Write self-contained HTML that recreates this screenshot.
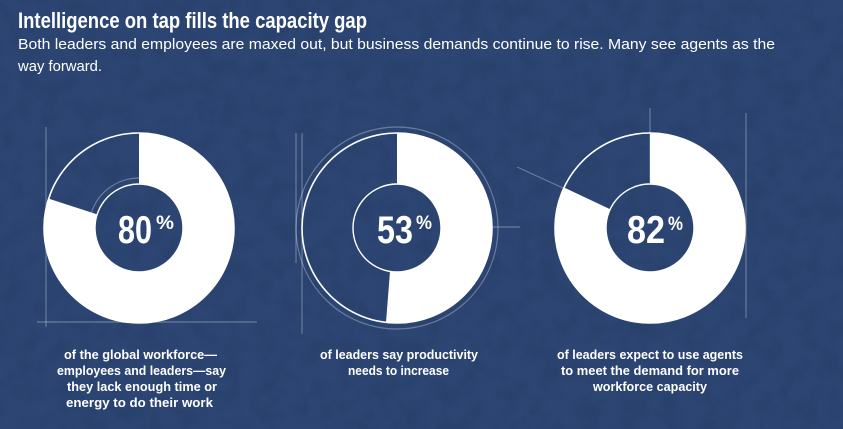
<!DOCTYPE html>
<html>
<head>
<meta charset="utf-8">
<style>
html,body{margin:0;padding:0;background:#2c4572;}
body{width:843px;height:429px;overflow:hidden;}
svg{display:block;}
text{font-family:"Liberation Sans",sans-serif;fill:#fff;}
</style>
</head>
<body>
<svg width="843" height="429" viewBox="0 0 843 429" xmlns="http://www.w3.org/2000/svg">
  <defs>
    <filter id="tex" x="0" y="0" width="100%" height="100%" color-interpolation-filters="sRGB">
      <feTurbulence type="fractalNoise" baseFrequency="0.05" numOctaves="3" seed="7" result="t"/>
      <feColorMatrix in="t" type="matrix" values="0 0 0 0 0.14  0 0 0 0 0.22  0 0 0 0 0.38  0 0 0 -3 1.75"/>
    </filter>
  </defs>
  <rect width="843" height="429" fill="#2c4572"/>
  <rect width="843" height="429" filter="url(#tex)" opacity="0.3"/>

  <!-- Title -->
  <text x="18" y="28" font-size="22" font-weight="bold" textLength="349" lengthAdjust="spacingAndGlyphs">Intelligence on tap fills the capacity gap</text>
  <text x="18" y="49" font-size="15" textLength="757" lengthAdjust="spacingAndGlyphs">Both leaders and employees are maxed out, but business demands continue to rise. Many see agents as the</text>
  <text x="18" y="71" font-size="15" textLength="84" lengthAdjust="spacingAndGlyphs">way forward.</text>

  <!-- faint construction lines -->
  <g stroke="#ffffff" stroke-opacity="0.3" stroke-width="1.2" fill="none">
    <line x1="46" y1="127" x2="46" y2="327"/>
    <line x1="37" y1="322" x2="257" y2="322"/>
    <line x1="296" y1="133" x2="296" y2="263"/>
    <line x1="302" y1="133" x2="302" y2="334"/>
    <circle cx="397" cy="228" r="101"/>
    <line x1="493" y1="227" x2="520" y2="227"/>
    <line x1="517" y1="167" x2="563" y2="188"/>
    <line x1="650" y1="108" x2="650" y2="184"/>
    <line x1="746" y1="113" x2="746" y2="318"/>
    <path d="M139,178 A50,50 0 0 0 91.5,212.5"/>
  </g>

  <!-- Donut 1: 80% -->
  <path d="M139,133 A95,95 0 1 1 48.65,198.64 L97.15,214.4 A44,44 0 1 0 139,184 Z" fill="#fff"/>
  <circle cx="139" cy="228" r="95" fill="none" stroke="#fff" stroke-width="1.6"/>
  <circle cx="139" cy="228" r="44" fill="none" stroke="#fff" stroke-width="1.4"/>
  <text x="118" y="243" font-size="39" font-weight="bold" textLength="34" lengthAdjust="spacingAndGlyphs">80</text>
  <text x="156" y="229" font-size="19" font-weight="bold" textLength="18" lengthAdjust="spacingAndGlyphs">%</text>

  <!-- Donut 2: 53% -->
  <path d="M397,133 A95,95 0 1 1 386,322.4 L390,271.4 A44,44 0 1 0 397,184 Z" fill="#fff"/>
  <circle cx="397" cy="228" r="95" fill="none" stroke="#fff" stroke-width="1.6"/>
  <circle cx="397" cy="228" r="44" fill="none" stroke="#fff" stroke-width="1.4"/>
  <text x="377" y="243" font-size="39" font-weight="bold" textLength="36" lengthAdjust="spacingAndGlyphs">53</text>
  <text x="416" y="229" font-size="19" font-weight="bold" textLength="16" lengthAdjust="spacingAndGlyphs">%</text>

  <!-- Donut 3: 82% -->
  <path d="M650,133 A95,95 0 1 1 564.04,187.55 L610.2,209.3 A44,44 0 1 0 650,184 Z" fill="#fff"/>
  <circle cx="650" cy="228" r="95" fill="none" stroke="#fff" stroke-width="1.6"/>
  <circle cx="650" cy="228" r="44" fill="none" stroke="#fff" stroke-width="1.4"/>
  <text x="627" y="243" font-size="39" font-weight="bold" textLength="38" lengthAdjust="spacingAndGlyphs">82</text>
  <text x="668" y="230" font-size="19" font-weight="bold" textLength="15" lengthAdjust="spacingAndGlyphs">%</text>

  <!-- Captions -->
  <g font-size="12.5" font-weight="bold">
    <text x="64" y="359" textLength="153" lengthAdjust="spacingAndGlyphs">of the global workforce—</text>
    <text x="57" y="375" textLength="169" lengthAdjust="spacingAndGlyphs">employees and leaders—say</text>
    <text x="67" y="391" textLength="150" lengthAdjust="spacingAndGlyphs">they lack enough time or</text>
    <text x="66" y="407" textLength="147" lengthAdjust="spacingAndGlyphs">energy to do their work</text>

    <text x="320" y="359" textLength="158" lengthAdjust="spacingAndGlyphs">of leaders say productivity</text>
    <text x="348" y="375" textLength="101" lengthAdjust="spacingAndGlyphs">needs to increase</text>

    <text x="557" y="359" textLength="186" lengthAdjust="spacingAndGlyphs">of leaders expect to use agents</text>
    <text x="561" y="375" textLength="178" lengthAdjust="spacingAndGlyphs">to meet the demand for more</text>
    <text x="593" y="391" textLength="114" lengthAdjust="spacingAndGlyphs">workforce capacity</text>
  </g>
</svg>
</body>
</html>
